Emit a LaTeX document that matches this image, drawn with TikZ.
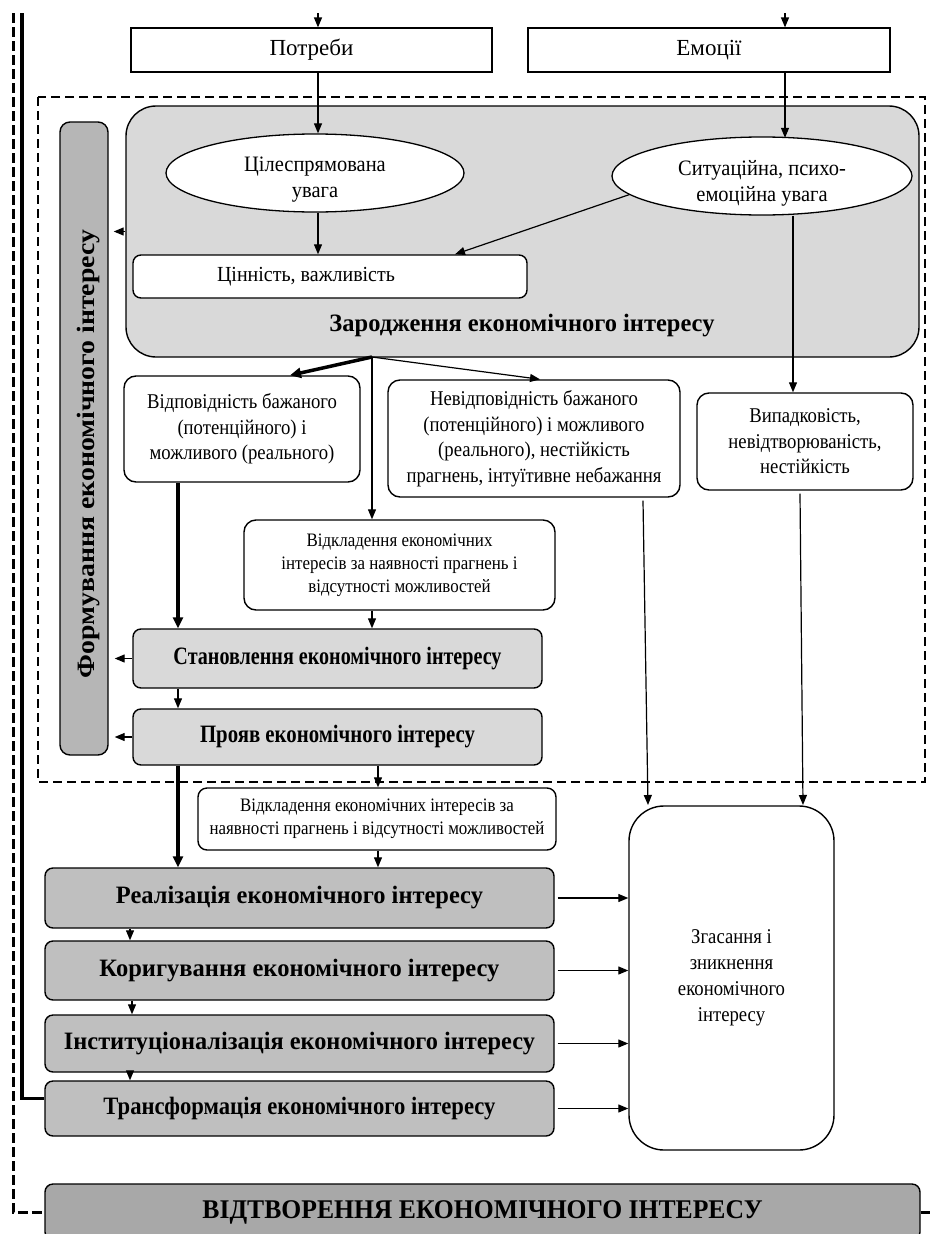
\documentclass[tikz,border=0pt]{standalone}
\usepackage{fontspec}
\setmainfont{Liberation Serif}
\newfontfamily\nf[FakeStretch=0.89]{Liberation Serif}
\newfontfamily\ef[FakeStretch=0.93]{Liberation Serif}
\usetikzlibrary{arrows.meta,shapes.geometric,calc}
\newcommand{\fw}[2]{\resizebox{#1}{\height}{#2}}
\definecolor{lgray}{HTML}{D9D9D9}
\definecolor{dgray}{HTML}{BFBFBF}
\definecolor{fgray}{HTML}{B6B6B6}
\definecolor{vgray}{HTML}{A8A8A8}
\begin{document}
\begin{tikzpicture}[x=1pt,y=-1pt,
  txt/.style={font=\nf\fontsize{21}{25.5}\selectfont},
  smtxt/.style={font=\nf\fontsize{19}{23}\selectfont},
  hd/.style={font=\bfseries\fontsize{25}{28}\selectfont},
  sqbox/.style={draw,line width=1.2pt,align=center,inner sep=0pt,font=\fontsize{23}{26}\selectfont},
  wbox/.style={draw,line width=1.4pt,rounded corners=12pt,fill=white,align=center,inner sep=0pt,txt},
  ellbox/.style={draw,line width=1.3pt,ellipse,fill=white,inner sep=0pt},
  lgbox/.style={draw,line width=1.4pt,rounded corners=8pt,fill=lgray,inner sep=0pt,hd},
  dgbox/.style={draw,line width=1.4pt,rounded corners=8pt,fill=dgray,inner sep=0pt,hd},
  arr/.style={line width=1.2pt,-{Triangle[length=10pt,width=8pt]}},
  tarr/.style={line width=3.5pt,-{Triangle[length=11pt,width=10pt]}},
  dashrect/.style={line width=1.1pt,dash pattern=on 9pt off 5pt}
]
\useasboundingbox (0,0) rectangle (930,1234);

% top boxes
\node[sqbox,minimum width=361,minimum height=44] (potr) at (311.5,50) {Потреби};
\node[sqbox,minimum width=362,minimum height=44] (emoc) at (709,50) {Емоції};

% dashed frame
\draw[dashrect] (38,97) rectangle (925,782);

% Zarodzhennia block
\node[draw,line width=1.4pt,rounded corners=30pt,fill=lgray,minimum width=793,minimum height=251,inner sep=0pt] (zar) at (522.5,231.5) {};
\node[hd] (zart) at (522,326) {\fw{385pt}{Зародження економічного інтересу}};

\node[ellbox,minimum width=298,minimum height=78] (ell1) at (315,173) {};
\node[font=\ef\fontsize{22}{26}\selectfont,align=center] (ell1t) at (315,180) {Цілеспрямована\\увага};
\node[ellbox,minimum width=300,minimum height=78] (ell2) at (762,176) {};
\node[font=\ef\fontsize{22}{26}\selectfont,align=center] (ell2t) at (762,183) {Ситуаційна, психо-\\емоційна увага};
\node[wbox,rounded corners=8pt,minimum width=394,minimum height=43] (cin) at (330,276.5) {};
\node[font=\ef\fontsize{21.5}{25}\selectfont] (cint) at (306,277) {Цінність, важливість};

% formuvannia bar
\node[draw,line width=1.4pt,rounded corners=10pt,fill=fgray,minimum width=48,minimum height=633,inner sep=0pt] (form) at (84,438.5) {};
\node[rotate=90,font=\bfseries\fontsize{25}{28}\selectfont] (formt) at (89,454) {\fw{448pt}{Формування економічного інтересу}};

% middle boxes
\node[wbox,minimum width=236,minimum height=106] (vidp) at (242,429) {Відповідність бажаного\\(потенційного) і\\можливого (реального)};
\node[wbox,minimum width=292,minimum height=117] (nevidp) at (534,438.5) {Невідповідність бажаного\\(потенційного) і можливого\\(реального), нестійкість\\прагнень, інтуїтивне небажання};
\node[wbox,minimum width=216,minimum height=97] (vypad) at (805,441.5) {Випадковість,\\невідтворюваність,\\нестійкість};
\node[wbox,smtxt,minimum width=311,minimum height=90] (vk1) at (399.5,565) {Відкладення економічних\\інтересів за наявності прагнень і\\відсутності можливостей};

\node[lgbox,minimum width=409,minimum height=59] (stan) at (337.5,658.5) {\fw{328pt}{Становлення економічного інтересу}};
\node[lgbox,minimum width=409,minimum height=56] (proy) at (337.5,737) {\fw{275pt}{Прояв економічного інтересу}};

\node[wbox,smtxt,rounded corners=9pt,minimum width=358,minimum height=62] (vk2) at (377,819) {Відкладення економічних інтересів за\\наявності прагнень і відсутності можливостей};

\node[dgbox,minimum width=509,minimum height=60] (real) at (299.5,898) {\fw{367pt}{Реалізація економічного інтересу}};
\node[dgbox,minimum width=509,minimum height=59] (kor) at (299.5,970.5) {\fw{400pt}{Коригування економічного інтересу}};
\node[dgbox,minimum width=509,minimum height=57] (inst) at (299.5,1043.5) {\fw{471pt}{Інституціоналізація економічного інтересу}};
\node[dgbox,minimum width=509,minimum height=55] (trans) at (299.5,1108.5) {\fw{392pt}{Трансформація економічного інтересу}};

\node[wbox,font=\nf\fontsize{21}{26}\selectfont,rounded corners=35pt,minimum width=205,minimum height=344] (zgas) at (731.5,978) {Згасання і\\зникнення\\економічного\\інтересу};

\node[draw,line width=1.4pt,rounded corners=8pt,fill=vgray,minimum width=875,minimum height=56,inner sep=0pt,font=\bfseries\fontsize{27}{30}\selectfont] (vidtv) at (482.5,1212) {\fw{560pt}{ВІДТВОРЕННЯ ЕКОНОМІЧНОГО ІНТЕРЕСУ}};

% coordinates
\coordinate (t1) at (318,13);
\coordinate (t2) at (785,13);
\coordinate (L1) at (22,13);
\coordinate (L2) at (13,13);
\coordinate (R) at (930,1212);
\coordinate (z) at (372,357);
\coordinate (zg1) at (648,805);
\coordinate (zg2) at (803,805);

% connectors
\draw[arr] (t1) -- (t1 |- potr.north);
\draw[arr] (t2) -- (t2 |- emoc.north);
\draw[arr] (potr.south -| t1) -- (t1 |- ell1.north);
\draw[arr] (emoc.south -| t2) -- ($(t2 |- ell2.north)+(0,1.5)$);
\draw[arr] (ell1.south -| t1) -- (cin.north -| t1);
\draw[arr] (ell2.188) -- (cin.north -| 455,0);
\draw[arr] (ell2.south -| 793,0) -- (vypad.north -| 793,0);

\draw[tarr] (z) -- (vidp.north -| 290,0);
\draw[arr] (z) -- (nevidp.north -| 540,0);
\draw[arr] (z) -- (vk1.north -| z);

\draw[tarr] (vidp.south -| 178,0) -- (stan.north -| 178,0);
\draw[arr] (vk1.south -| z) -- (stan.north -| z);
\draw[arr] (stan.south -| 178,0) -- (proy.north -| 178,0);
\draw[tarr] (proy.south -| 178,0) -- (real.north -| 178,0);
\draw[arr] (proy.south -| 378,0) -- (vk2.north -| 378,0);
\draw[arr] (vk2.south -| 378,0) -- (real.north -| 378,0);

\draw[arr] (real.south -| 130,0) -- (kor.north -| 130,0);
\draw[arr] (kor.south -| 132,0) -- (inst.north -| 132,0);
\draw[arr] (inst.south -| 130,0) -- (trans.north -| 130,0);

\draw[arr] ($(real.east)+(3,0)$) -- (zgas.west |- real.east);
\draw[arr] ($(kor.east)+(3,0)$) -- (zgas.west |- kor.east);
\draw[arr] ($(inst.east)+(3,0)$) -- (zgas.west |- inst.east);
\draw[arr] ($(trans.east)+(3,0)$) -- (zgas.west |- trans.east);

\draw[arr] ($(nevidp.south -| 643,0)+(0,3)$) -- (zg1);
\draw[arr] ($(vypad.south -| 800,0)+(0,3)$) -- (zg2);

\draw[arr,shorten >=5pt] (zar.west) -- (zar.west -| form.east);
\draw[arr,shorten >=6pt] (stan.west) -- (stan.west -| form.east);
\draw[arr,shorten >=6pt] (proy.west) -- (proy.west -| form.east);

\draw[line width=3.5pt] (L1) |- ($(trans.west)+(0,-10)$);
\draw[line width=3pt,dash pattern=on 10pt off 4pt] (L2) |- (vidtv.west);
\draw[line width=3pt] (vidtv.east) -- (R);
\end{tikzpicture}
\end{document}
